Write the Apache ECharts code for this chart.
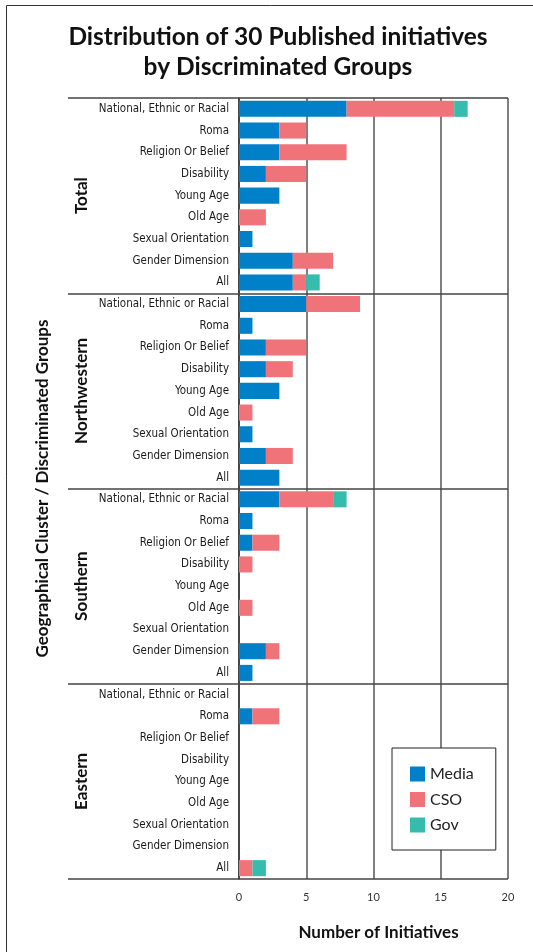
<!DOCTYPE html>
<html>
<head>
<meta charset="utf-8">
<script src="https://cdn.jsdelivr.net/npm/echarts@6/dist/echarts.min.js"></script>
<style>html,body{margin:0;padding:0;background:#fff;}#c{width:533px;height:952px;}</style>
</head>
<body>
<div id="c"></div>
<script>
const groups = ['Total', 'Northwestern', 'Southern', 'Eastern'];
const subgroups = ['National, Ethnic or Racial', 'Roma', 'Religion Or Belief', 'Disability', 'Young Age', 'Old Age', 'Sexual Orientation', 'Gender Dimension', 'All'];
const seriesNames = ['Media', 'CSO', 'Gov'];
const xTicks = [0, 5, 10, 15, 20];

// values per group, in subgroup order
const mediaTotal = [8, 3, 3, 2, 3, 0, 1, 4, 4];
const csoTotal   = [8, 2, 5, 3, 0, 2, 0, 3, 1];
const govTotal   = [1, 0, 0, 0, 0, 0, 0, 0, 1];

const mediaNW = [5, 1, 2, 2, 3, 0, 1, 2, 3];
const csoNW   = [4, 0, 3, 2, 0, 1, 0, 2, 0];
const govNW   = [0, 0, 0, 0, 0, 0, 0, 0, 0];

const mediaS = [3, 1, 1, 0, 0, 0, 0, 2, 1];
const csoS   = [4, 0, 2, 1, 0, 1, 0, 1, 0];
const govS   = [1, 0, 0, 0, 0, 0, 0, 0, 0];

const mediaE = [0, 1, 0, 0, 0, 0, 0, 0, 0];
const csoE   = [0, 2, 0, 0, 0, 0, 0, 0, 1];
const govE   = [0, 0, 0, 0, 0, 0, 0, 0, 1];

const colors = ['#0080c8', '#f0737a', '#35bcac'];

const cats = [];
groups.forEach(g => subgroups.forEach(s => cats.push(g + '|' + s)));
const mediaAll = [].concat(mediaTotal, mediaNW, mediaS, mediaE);
const csoAll = [].concat(csoTotal, csoNW, csoS, csoE);
const govAll = [].concat(govTotal, govNW, govS, govE);
const seriesData = [mediaAll, csoAll, govAll];

const narrow = '"DejaVu Sans Condensed", "Liberation Sans Narrow", sans-serif';
const bold = 'Lato, "Open Sans", sans-serif';

const chart = echarts.init(document.getElementById('c'), null, {renderer: 'canvas'});
chart.setOption({
  animation: false,
  backgroundColor: '#fff',
  title: {
    text: 'Distribution of 30 Published initiatives\nby Discriminated Groups',
    left: 273,
    textAlign: 'center',
    top: 17,
    textStyle: {fontFamily: bold, fontWeight: 'bold', fontSize: 24.5, lineHeight: 30, color: '#111'}
  },
  graphic: [{
    type: 'rect', left: 4, top: 3, shape: {width: 700, height: 1100},
    style: {fill: 'none', stroke: '#333', lineWidth: 1}, silent: true
  }],
  legend: {
    data: seriesNames,
    orient: 'vertical',
    left: 392, top: 748,
    padding: [18, 22, 17, 18],
    itemWidth: 15, itemHeight: 15, itemGap: 9.5,
    icon: 'rect',
    backgroundColor: '#fff',
    borderColor: '#222', borderWidth: 1,
    textStyle: {fontFamily: bold, fontSize: 16, color: '#222'}
  },
  grid: {left: 239, right: 25, top: 98, bottom: 73, containLabel: false},
  xAxis: {
    type: 'value', min: 0, max: 20, interval: 5,
    axisLine: {show: false},
    axisTick: {show: false},
    splitLine: {show: true, lineStyle: {color: '#555', width: 1.5}},
    axisLabel: {color: '#333', fontSize: 11, fontFamily: bold, margin: 13,
      formatter: v => xTicks.indexOf(v) >= 0 ? String(v) : ''},
    name: 'Number of Initiatives',
    nameLocation: 'middle', nameGap: 45,
    nameTextStyle: {fontFamily: bold, fontWeight: 'bold', fontSize: 17, color: '#111', padding: [0, 0, 0, 10]}
  },
  yAxis: [{
    type: 'category', data: cats, inverse: true,
    axisLine: {show: true, lineStyle: {color: '#333', width: 1.5}},
    axisTick: {show: false},
    axisLabel: {fontFamily: narrow, fontSize: 11.5, color: '#1a1a1a', margin: 10,
      formatter: v => v.split('|')[1]}
  }, {
    type: 'category', data: groups, inverse: true,
    position: 'left', offset: 171,
    axisLine: {show: false},
    axisTick: {show: true, inside: true, length: 440, lineStyle: {color: '#444', width: 1.5}},
    axisLabel: {inside: true, rotate: 90, margin: 5, fontFamily: bold, fontWeight: 'bold', fontSize: 17, color: '#111'},
    name: 'Geographical Cluster / Discriminated Groups',
    nameLocation: 'middle', nameGap: 17, nameRotate: 90,
    nameTextStyle: {fontFamily: bold, fontWeight: 'bold', fontSize: 17, color: '#111'}
  }],
  series: seriesNames.map((n, i) => ({
    name: n, type: 'bar', stack: 'all', yAxisIndex: 0,
    barWidth: '74%',
    itemStyle: {color: colors[i]},
    data: seriesData[i]
  }))
});
</script>
</body>
</html>
